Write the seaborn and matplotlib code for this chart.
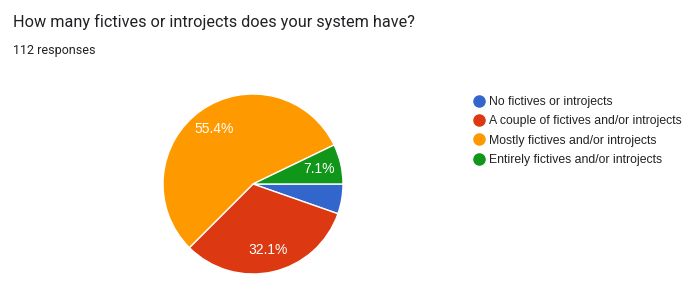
import matplotlib
matplotlib.use("Agg")
import matplotlib.pyplot as plt
from matplotlib.lines import Line2D
import seaborn as sns

categories = ["No fictives or introjects",
              "A couple of fictives and/or introjects",
              "Mostly fictives and/or introjects",
              "Entirely fictives and/or introjects"]
counts = [6, 36, 62, 8]
colors = ["#3366cc", "#dc3912", "#ff9900", "#109618"]
title = "How many fictives or introjects does your system have?"
subtitle = "112 responses"

sns.set_theme(style="white")
plt.rcParams['font.family'] = ['Roboto', 'DejaVu Sans']

W, H = 697, 295
fig = plt.figure(figsize=(W/100, H/100), dpi=100)
fig.patch.set_facecolor("white")

cx, cy, r = 253, 184, 90
ax = fig.add_axes([(cx - r)/W, (H - cy - r)/H, 2*r/W, 2*r/H])

def fmt(p):
    return f"{p:.1f}%" if p > 6 else ""

wedges, texts, autotexts = ax.pie(
    counts, colors=colors, startangle=0, counterclock=False,
    autopct=fmt, pctdistance=0.75, radius=1.0,
    wedgeprops=dict(edgecolor="white", linewidth=1.0),
    textprops=dict(color="white", fontsize=10, family=['Liberation Sans', 'DejaVu Sans']))
ax.set_xlim(-1, 1)
ax.set_ylim(-1, 1)
ax.set_aspect("equal")
ax.axis("off")

fig.text(13/W, 1 - 22/H, title, fontsize=11.7, color="#202124",
         va="center", ha="left")
fig.text(13/W, 1 - 51/H, subtitle, fontsize=9, color="#202124",
         va="center", ha="left")

handles = [Line2D([0], [0], marker='o', linestyle='', markersize=8,
                  markerfacecolor=c, markeredgecolor=c) for c in colors]
fig.legend(handles, categories, loc="upper left",
           bbox_to_anchor=(474/W, 1 - 96/H), frameon=False,
           handlelength=0.8, handletextpad=0.4, labelspacing=0.6,
           borderaxespad=0, borderpad=0,
           prop=dict(family=['Liberation Sans', 'DejaVu Sans'], size=8.8),
           labelcolor="#222222")

fig.savefig("out.png", dpi=100, facecolor="white")
